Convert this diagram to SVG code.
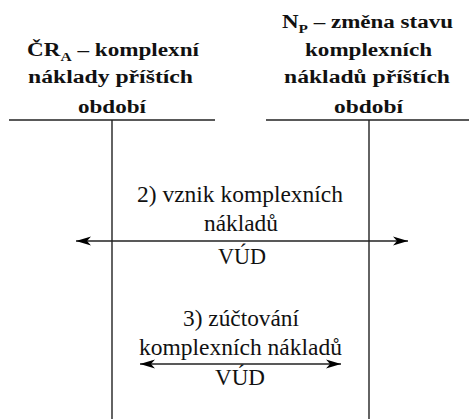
<svg xmlns="http://www.w3.org/2000/svg" width="469" height="419" viewBox="0 0 469 419">
  <style>
    text { font-family: "Liberation Serif", serif; fill: #111; }
    .hdr { font-weight: bold; font-size: 18px; }
    .body { font-size: 22.5px; }
    .sub { font-size: 12px; }
    .ln { stroke: #222; stroke-width: 1.4; fill: none; }
  </style>
  <defs>
    <marker id="ah" markerUnits="userSpaceOnUse" markerWidth="16" markerHeight="10" refX="15" refY="5" orient="auto-start-reverse">
      <path d="M0,0.5 L15,5 L0,9.5 L4,5 Z" fill="#000"/>
    </marker>
  </defs>
  <rect width="469" height="419" fill="#fff"/>

  <g id="account-left">
    <line class="ln" x1="9" y1="120" x2="215" y2="120"/>
    <line class="ln" x1="112" y1="120" x2="112" y2="419"/>
    <text class="hdr" x="27" y="56" textLength="172" lengthAdjust="spacingAndGlyphs">ČR<tspan class="sub" dy="5">A</tspan><tspan dy="-5"> – komplexní</tspan></text>
    <text class="hdr" x="28" y="83" textLength="165" lengthAdjust="spacingAndGlyphs">náklady příštích</text>
    <text class="hdr" x="78" y="113" textLength="68" lengthAdjust="spacingAndGlyphs">období</text>
  </g>

  <g id="account-right">
    <line class="ln" x1="266" y1="120" x2="469" y2="120"/>
    <line class="ln" x1="369" y1="120" x2="369" y2="419"/>
    <text class="hdr" x="282" y="28" textLength="171" lengthAdjust="spacingAndGlyphs">N<tspan class="sub" dy="5">P</tspan><tspan dy="-5"> – změna stavu</tspan></text>
    <text class="hdr" x="305" y="56" textLength="127" lengthAdjust="spacingAndGlyphs">komplexních</text>
    <text class="hdr" x="284" y="83" textLength="166" lengthAdjust="spacingAndGlyphs">nákladů příštích</text>
    <text class="hdr" x="334" y="113" textLength="69" lengthAdjust="spacingAndGlyphs">období</text>
  </g>

  <g id="connectors">
    <line class="ln" x1="76" y1="241" x2="408" y2="241" marker-start="url(#ah)" marker-end="url(#ah)"/>
    <line class="ln" x1="140" y1="364" x2="341" y2="364" marker-start="url(#ah)" marker-end="url(#ah)"/>
  </g>

  <g id="label-2">
    <text class="body" x="137" y="202" textLength="206" lengthAdjust="spacingAndGlyphs">2) vznik komplexních</text>
    <text class="body" x="204" y="231" textLength="74" lengthAdjust="spacingAndGlyphs">nákladů</text>
    <text class="body" x="218" y="264" textLength="48" lengthAdjust="spacingAndGlyphs">VÚD</text>
  </g>

  <g id="label-3">
    <text class="body" x="183" y="326" textLength="116" lengthAdjust="spacingAndGlyphs">3) zúčtování</text>
    <text class="body" x="139" y="355" textLength="203" lengthAdjust="spacingAndGlyphs">komplexních nákladů</text>
    <text class="body" x="215" y="385" textLength="50" lengthAdjust="spacingAndGlyphs">VÚD</text>
  </g>
</svg>
